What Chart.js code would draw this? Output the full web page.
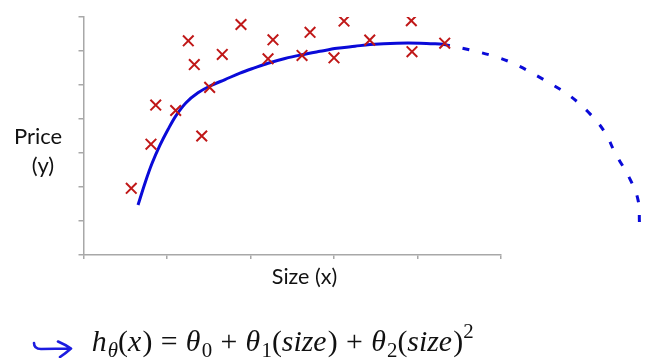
<!DOCTYPE html>
<html>
<head>
<meta charset="utf-8">
<script src="https://cdn.jsdelivr.net/npm/chart.js@4/dist/chart.umd.min.js"></script>
<style>
  html, body { margin: 0; padding: 0; background: #ffffff; }
  #wrap { width: 663px; height: 358px; position: relative; }
</style>
</head>
<body>
<div id="wrap"><canvas id="c" width="663" height="358"></canvas></div>
<script>
// ---- data (x: size units 0..5, y: price units 0..7) ----
const pointX = [0.572, 0.808, 0.865, 1.104, 1.255, 1.327, 1.416, 1.511, 1.662, 1.886,
                2.210, 2.269, 2.617, 2.713, 3.000, 3.120, 3.428, 3.926, 3.934, 4.326];
const pointY = [1.96, 3.26, 4.41, 4.25, 6.30, 5.60, 3.50, 4.93, 5.90, 6.78,
                5.77, 6.33, 5.87, 6.55, 5.80, 6.88, 6.32, 6.89, 5.98, 6.23];

const fitX = [0.653, 0.737, 0.820, 0.916, 1.012, 1.108, 1.228, 1.371, 1.515, 1.695, 1.874,
              2.054, 2.210, 2.413, 2.617, 2.832, 3.036, 3.251, 3.431, 3.754, 4.030, 4.305];
const fitY = [1.47, 2.12, 2.69, 3.23, 3.69, 4.10, 4.48, 4.77, 4.97, 5.16, 5.35,
              5.51, 5.64, 5.78, 5.89, 5.99, 6.08, 6.14, 6.19, 6.23, 6.23, 6.20];

const extX = [4.305, 4.629, 4.964, 5.204, 5.431, 5.623, 5.826, 6.066, 6.246, 6.365, 6.545, 6.641, 6.659];
const extY = [6.20, 6.03, 5.81, 5.57, 5.27, 5.00, 4.68, 4.15, 3.60, 3.01, 2.23, 1.62, 0.90];

const xTicks = [0, 1, 2, 3, 4, 5];
const yTicks = [0, 1, 2, 3, 4, 5, 6, 7];

const xLabel = 'Size (x)';
const yLabelLines = ['Price', '(y)'];

// formula tokens: [text, kind]  i=italic, r=roman, sub=roman subscript, subi=italic subscript, sup=roman superscript, op=binary operator
const formula = [
  ['h','i'], ['θ','subi'], ['(','r'], ['x','i'], [')','r'], ['=','op'],
  ['θ','i'], ['0','sub'], ['+','op'],
  ['θ','i'], ['1','sub'], ['(','r'], ['size','i'], [')','r'], ['+','op'],
  ['θ','i'], ['2','sub'], ['(','r'], ['size','i'], [')','r'], ['2','sup']
];

const toPts = (xs, ys) => xs.map((x, i) => ({x: x, y: ys[i]}));

const textPlugin = {
  id: 'texts',
  afterDraw(chart) {
    const ctx = chart.ctx;
    ctx.save();
    ctx.fillStyle = '#111111';
    ctx.textBaseline = 'alphabetic';
    ctx.textAlign = 'center';
    ctx.font = '22px Lato';
    ctx.fillText(yLabelLines[0], 38, 143.5);
    ctx.fillText(yLabelLines[1], 43, 173);
    ctx.font = '21.5px Lato';
    ctx.fillText(xLabel, 304.5, 283.7);

    // formula
    const serif = '"Liberation Serif", "DejaVu Serif", serif';
    const fontFor = (kind, s) => {
      if (kind === 'i') return 'italic ' + s + 'px ' + serif;
      if (kind === 'subi') return 'italic ' + (s * 0.7) + 'px ' + serif;
      if (kind === 'sub' || kind === 'sup') return (s * 0.7) + 'px ' + serif;
      return s + 'px ' + serif;
    };
    const layout = (s) => {
      let w = 0;
      const items = [];
      formula.forEach(([t, k]) => {
        ctx.font = fontFor(k, s);
        let pad = (k === 'op') ? s * 0.28 : 0;
        let extra = (k === 'i') ? s * 0.04 : 0;
        w += pad;
        items.push({t, k, x: w, font: ctx.font});
        w += ctx.measureText(t).width + pad + extra;
      });
      return {w, items};
    };
    const base = 26;
    const first = layout(base);
    const s = base * 382 / first.w;
    const lay = layout(s);
    const x0 = 91.7, yb = 351;
    ctx.textAlign = 'left';
    lay.items.forEach(it => {
      ctx.font = it.font;
      let dy = 0;
      if (it.k === 'sub' || it.k === 'subi') dy = s * 0.2;
      if (it.k === 'sup') dy = -s * 0.42;
      ctx.fillText(it.t, x0 + it.x, yb + dy);
    });

    // hand-drawn arrow
    ctx.strokeStyle = '#1c1ce0';
    ctx.lineWidth = 2.6;
    ctx.lineCap = 'round';
    ctx.lineJoin = 'round';
    ctx.beginPath();
    ctx.moveTo(34, 343);
    ctx.quadraticCurveTo(34, 349, 41, 349);
    ctx.lineTo(70, 348.5);
    ctx.moveTo(58, 341.5);
    ctx.quadraticCurveTo(66, 345, 71, 348.5);
    ctx.quadraticCurveTo(66, 353, 60, 357);
    ctx.stroke();
    ctx.restore();
  }
};

const axisColor = '#a8a8a8';

new Chart(document.getElementById('c'), {
  type: 'scatter',
  data: {
    datasets: [
      {
        label: 'data',
        data: toPts(pointX, pointY),
        pointStyle: 'crossRot',
        pointRadius: 7.5,
        pointBorderWidth: 2,
        borderColor: '#c01818',
        backgroundColor: '#c01818',
        showLine: false,
        order: 1
      },
      {
        label: 'fit',
        data: toPts(fitX, fitY),
        showLine: true,
        borderColor: '#0a0ad8',
        borderWidth: 3,
        pointRadius: 0,
        tension: 0.35,
        order: 2
      },
      {
        label: 'extrapolation',
        data: toPts(extX, extY),
        showLine: true,
        borderColor: '#0a0ad8',
        borderWidth: 3,
        borderDash: [7, 13],
        pointRadius: 0,
        tension: 0.4,
        clip: false,
        order: 3
      }
    ]
  },
  options: {
    responsive: false,
    animation: false,
    events: [],
    layout: { padding: { top: 17, right: 162, left: 0, bottom: 0 } },
    plugins: { legend: { display: false }, tooltip: { enabled: false } },
    scales: {
      x: {
        type: 'linear',
        afterDataLimits(scale) { scale.min = xTicks[0]; scale.max = xTicks[xTicks.length - 1]; },
        afterBuildTicks(scale) { scale.ticks = xTicks.map(v => ({value: v})); },
        afterFit(scale) { scale.height = 103; },
        ticks: { display: false },
        grid: { drawOnChartArea: false, drawTicks: true, tickLength: 4, color: axisColor, lineWidth: 1.5 },
        border: { color: axisColor, width: 1.5 }
      },
      y: {
        type: 'linear',
        min: yTicks[0],
        max: yTicks[yTicks.length - 1],
        afterBuildTicks(scale) { scale.ticks = yTicks.map(v => ({value: v})); },
        afterFit(scale) { scale.width = 83.5; },
        ticks: { display: false },
        grid: { drawOnChartArea: false, drawTicks: true, tickLength: 5, color: axisColor, lineWidth: 1.5 },
        border: { color: axisColor, width: 1.5 }
      }
    }
  },
  plugins: [textPlugin]
});
</script>
</body>
</html>
